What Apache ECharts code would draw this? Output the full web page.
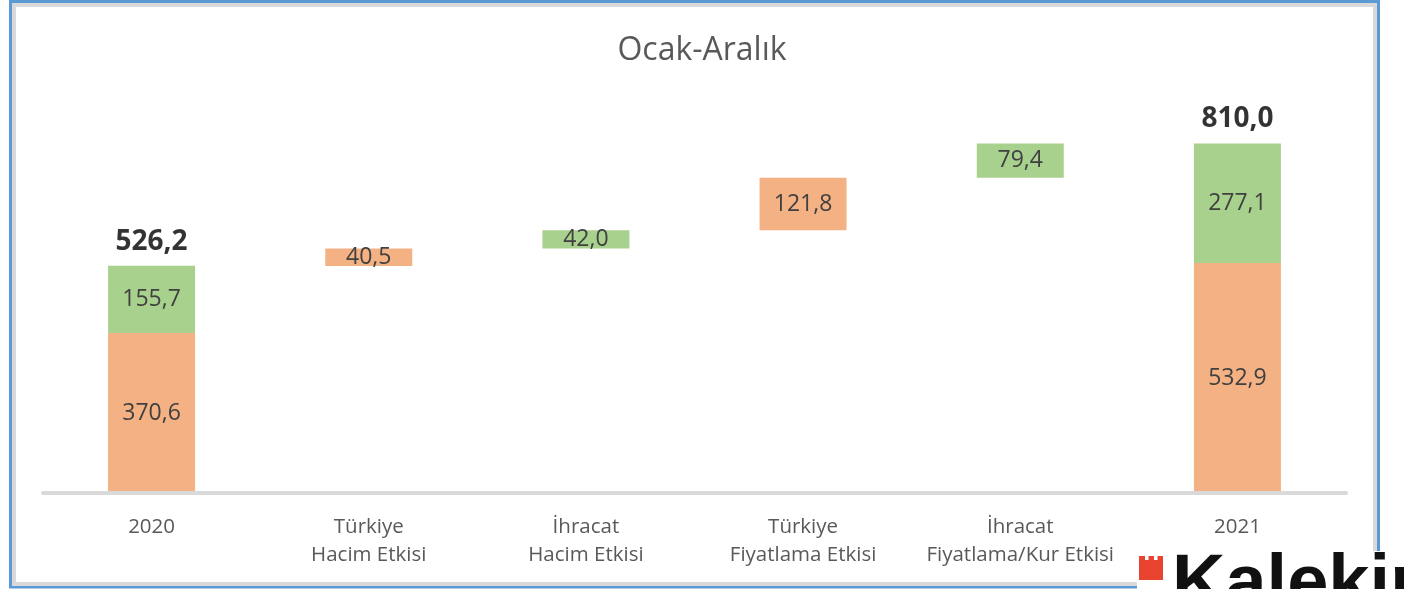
<!DOCTYPE html>
<html>
<head>
<meta charset="utf-8">
<script src="https://cdn.jsdelivr.net/npm/echarts@6/dist/echarts.min.js"></script>
<style>
  html, body { margin: 0; padding: 0; background: #fff; }
  #chart { width: 1404px; height: 589px; }
</style>
</head>
<body>
<div id="chart"></div>
<script>
// kategoriler
const categories = ['2020', 'Türkiye\nHacim Etkisi', 'İhracat\nHacim Etkisi', 'Türkiye\nFiyatlama Etkisi', 'İhracat\nFiyatlama/Kur Etkisi', '2021']
// Türkiye (turuncu) ve İhracat (yeşil) değerleri
const turkiyeValues = [370.6, 40.5, null, 121.8, null, 532.9]
const ihracatValues = [155.7, null, 42.0, null, 79.4, 277.1]
// toplamlar (sadece 2020 ve 2021)
const totals = [526.2, null, null, null, null, 810.0]

// şelale tabanı: önceki toplamdan başlayıp etkileri biriktir
const baseValues = []
let running = totals[0]
categories.forEach((c, i) => {
  if (i === 0 || i === categories.length - 1) {
    baseValues.push(0)
  } else {
    baseValues.push(running)
    running += (turkiyeValues[i] || 0) + (ihracatValues[i] || 0)
  }
})

const fmt = v => Number(v).toFixed(1).replace('.', ',')
const FONT = 'Open Sans'

const chart = echarts.init(document.getElementById('chart'))
const option = {
  animation: false,
  title: {
    text: 'Ocak-Aralık',
    left: 'center',
    top: 30,
    textStyle: { fontFamily: FONT, fontSize: 32, fontWeight: 'normal', color: '#595959' }
  },
  grid: { left: 43, right: 58, bottom: 96, top: 104.6 },
  xAxis: {
    type: 'category',
    data: categories,
    axisLine: { lineStyle: { color: '#D9D9D9', width: 4 } },
    axisTick: { show: false },
    axisLabel: {
      fontFamily: FONT, fontSize: 20.5, color: '#595959', lineHeight: 28, margin: 20, interval: 0
    },
    z: 10
  },
  yAxis: { type: 'value', min: 0, max: 900, show: false, splitLine: { show: false } },
  series: [
    {
      name: 'base', type: 'bar', stack: 'w', barWidth: 87,
      data: baseValues,
      itemStyle: { color: 'transparent' },
      silent: true
    },
    {
      name: 'Türkiye', type: 'bar', stack: 'w', barWidth: 87,
      data: turkiyeValues.map(v => v === null ? '-' : v),
      itemStyle: { color: '#F4B183' },
      label: {
        show: true, position: 'inside', formatter: p => fmt(p.value),
        fontFamily: FONT, fontSize: 23, color: '#404040'
      }
    },
    {
      name: 'İhracat', type: 'bar', stack: 'w', barWidth: 87,
      data: ihracatValues.map(v => v === null ? '-' : v),
      itemStyle: { color: '#A9D18E' },
      label: {
        show: true, position: 'inside', formatter: p => fmt(p.value),
        fontFamily: FONT, fontSize: 23, color: '#404040'
      }
    },
    {
      name: 'Toplam', type: 'scatter', symbolSize: 0,
      data: totals.map(v => v === null ? '-' : v),
      label: {
        show: true, position: 'top', distance: 10, formatter: p => fmt(p.value),
        fontFamily: FONT, fontSize: 28, fontWeight: 'bold', color: '#000'
      }
    }
  ],
  graphic: [
    { type: 'rect', shape: { x: 10.5, y: 1.5, width: 1368, height: 585.5 },
      style: { fill: 'none', stroke: '#5B9BD5', lineWidth: 3 }, z: 1 },
    { type: 'rect', shape: { x: 14, y: 5, width: 1361, height: 579 },
      style: { fill: 'none', stroke: '#D9D9D9', lineWidth: 4 }, z: 1 },
    { type: 'rect', shape: { x: 1137, y: 551, width: 267, height: 38 },
      style: { fill: '#fff' }, z: 20 },
    { type: 'polygon', z: 21,
      shape: { points: [[1139, 556], [1145, 556], [1145, 560], [1148.5, 560], [1148.5, 556], [1154, 556], [1154, 560], [1157.5, 560], [1157.5, 556], [1163, 556], [1163, 580], [1139, 580]] },
      style: { fill: '#E8432F' } },
    { type: 'text', z: 21, left: 1172, top: 549,
      style: { text: 'Kalekim', fontFamily: 'Liberation Sans', fontWeight: 'bold', fontSize: 74, fill: '#111' } }
  ]
}
chart.setOption(option)
</script>
</body>
</html>
